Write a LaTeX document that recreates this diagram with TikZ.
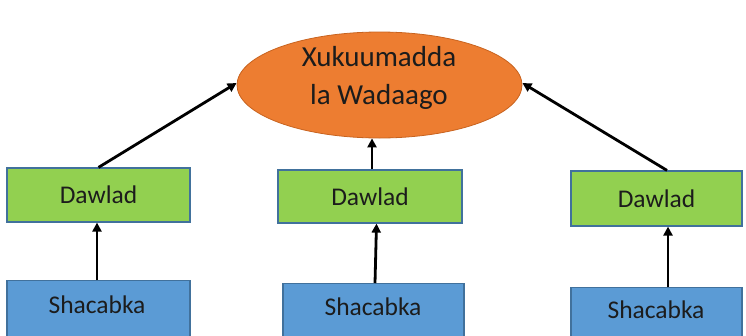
\documentclass[tikz,border=0pt]{standalone}
\usepackage{fontspec}
\setmainfont{Carlito}
\usetikzlibrary{shapes.geometric,arrows.meta}
\definecolor{boxgreen}{HTML}{92D050}
\definecolor{boxblue}{HTML}{5B9BD5}
\definecolor{boxedge}{HTML}{41719C}
\definecolor{unionfill}{HTML}{ED7D31}
\definecolor{unionedge}{HTML}{C8631F}
\definecolor{inktext}{HTML}{1C1C1C}
\begin{document}
\begin{tikzpicture}[x=1pt,y=-1pt,
  statebox/.style={draw=boxedge,line width=1.2pt,fill=boxgreen,rectangle,inner sep=0pt,
    font=\fontsize{25.5}{30}\selectfont,text=inktext},
  peoplebox/.style={draw=boxedge,line width=1.2pt,fill=boxblue,rectangle,inner sep=0pt},
  boxtext/.style={font=\fontsize{25.5}{30}\selectfont,text=inktext},
  union/.style={ellipse,draw=unionedge,line width=0.8pt,fill=unionfill,inner sep=0pt,
    minimum width=285pt,minimum height=106pt},
  uniontext/.style={align=center,font=\fontsize{29}{38}\selectfont,text=inktext},
  link/.style={line width=2.8pt,-{Triangle[length=9pt,width=9pt]}}
]
\useasboundingbox (0,0) rectangle (746,335);

% federal union at the top
\node[union] (e) at (379.5,85) {};
\node[uniontext] (et) at (379,78) {Xukuumadda\\la Wadaago};

% member states
\node[statebox,minimum width=183pt,minimum height=54pt] (g1) at (98.5,195) {Dawlad};
\node[statebox,minimum width=184pt,minimum height=53pt] (g2) at (370,196.5) {Dawlad};
\node[statebox,minimum width=171pt,minimum height=55pt] (g3) at (656.5,198.5) {Dawlad};

% people of each state
\node[peoplebox,minimum width=183pt,minimum height=60pt,anchor=north] (b1) at (98.5,280) {};
\node[peoplebox,minimum width=181pt,minimum height=60pt,anchor=north] (b2) at (373.5,283) {};
\node[peoplebox,minimum width=171pt,minimum height=60pt,anchor=north] (b3) at (656.5,287) {};
\node[boxtext] (t1) at (97,305) {Shacabka};
\node[boxtext] (t2) at (373,307) {Shacabka};
\node[boxtext] (t3) at (656,310) {Shacabka};

% people -> states
\draw[link] ([xshift=-1.5pt]b1.north) -- ([xshift=-1.5pt]b1.north |- g1.south);
\draw[link] ([xshift=1.5pt]b2.north) -- ([xshift=3pt]b2.north |- g2.south);
\draw[link] ([xshift=11.5pt]b3.north) -- ([xshift=11.5pt]b3.north |- g3.south);

% states -> union
\draw[link] (g1.north) -- ([yshift=2pt]e.west);
\draw[link] ([xshift=2pt]g2.north) -- ([xshift=2pt]g2.north |- e.south);
\draw[link] ([xshift=10.5pt]g3.north) -- ([yshift=2pt]e.east);
\end{tikzpicture}
\end{document}
